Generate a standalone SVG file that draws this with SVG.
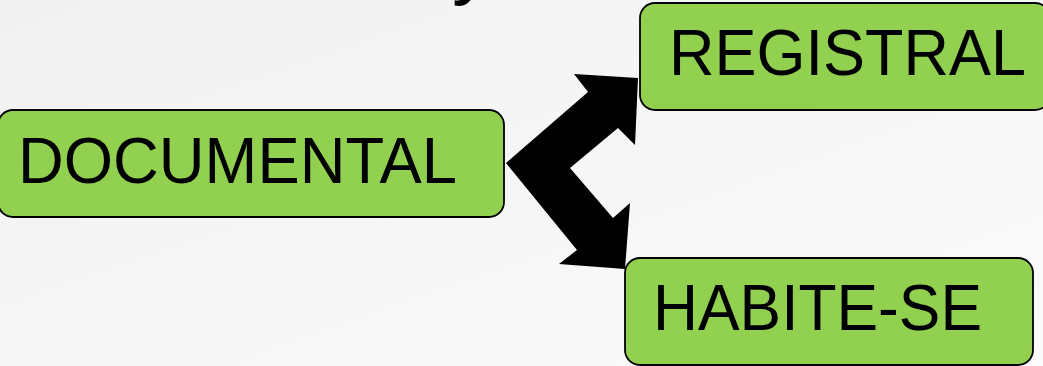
<svg xmlns="http://www.w3.org/2000/svg" width="1043" height="366" viewBox="0 0 1043 366">
  <defs>
    <linearGradient id="bg" x1="0" y1="0" x2="1" y2="1">
      <stop offset="0" stop-color="#f1f1f1"/>
      <stop offset="1" stop-color="#fbfbfb"/>
    </linearGradient>
    <style>
      .box { fill: #92d050; stroke: #000; stroke-width: 1.8; }
      .lbl { font-family: "Liberation Sans", Arial, sans-serif; font-size: 65px; fill: #000; }
    </style>
  </defs>
  <rect x="0" y="0" width="1043" height="366" fill="url(#bg)"/>
  <text x="452" y="-11" font-family="Liberation Sans, Arial, sans-serif" font-size="82" fill="#000">y</text>

  <g id="connectors">
    <polygon points="506,163 588,92 574,74 638,78 635,145 618,128 570,168 613,218 630,203 625,269 559,264 577,250" fill="#000"/>
  </g>

  <g id="node-documental">
    <rect class="box" x="-2" y="110" width="506" height="107" rx="15" ry="15"/>
    <text class="lbl" x="18" y="183" textLength="439" lengthAdjust="spacingAndGlyphs">DOCUMENTAL</text>
  </g>
  <g id="node-registral">
    <rect class="box" x="640" y="3" width="410" height="107" rx="15" ry="15"/>
    <text class="lbl" x="669" y="75" textLength="357" lengthAdjust="spacingAndGlyphs">REGISTRAL</text>
  </g>
  <g id="node-habite-se">
    <rect class="box" x="625" y="258" width="408" height="107" rx="15" ry="15"/>
    <text class="lbl" x="653" y="330" textLength="329" lengthAdjust="spacingAndGlyphs">HABITE-SE</text>
  </g>
</svg>
